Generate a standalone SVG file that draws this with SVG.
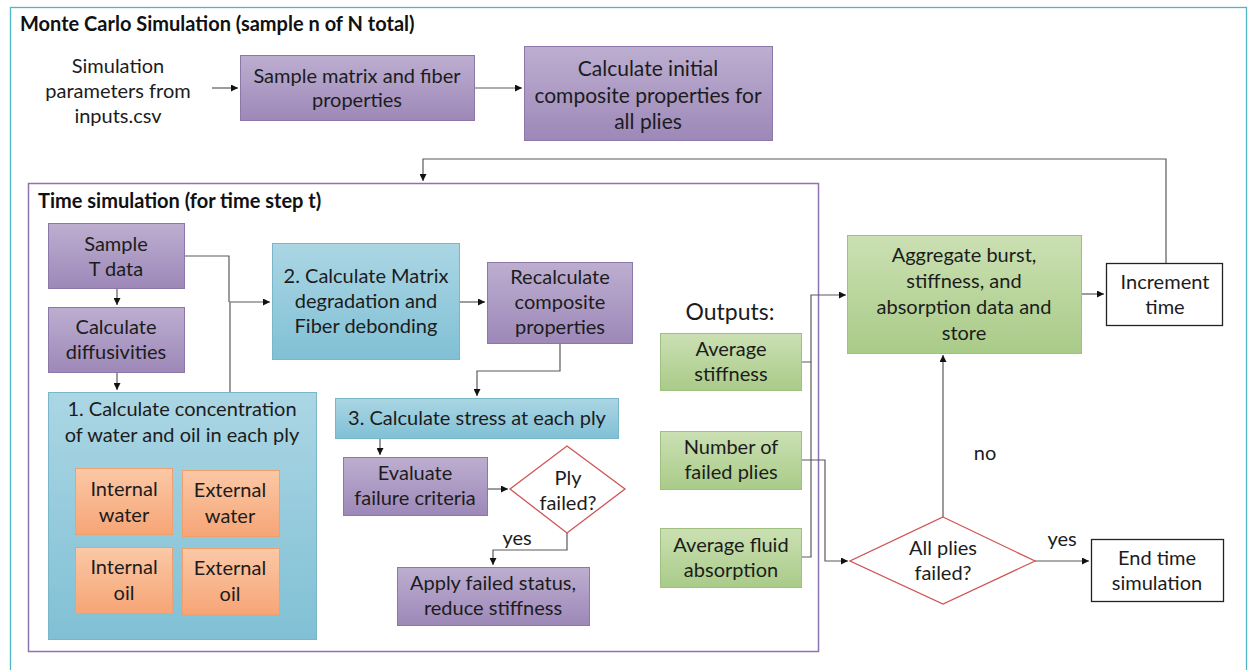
<svg xmlns="http://www.w3.org/2000/svg" width="1249" height="670" viewBox="0 0 1249 670">
<defs>
<linearGradient id="gp" x1="0" y1="0" x2="0" y2="1"><stop offset="0" stop-color="#bdaed0"/><stop offset="1" stop-color="#9d88b8"/></linearGradient>
<linearGradient id="gb" x1="0" y1="0" x2="0" y2="1"><stop offset="0" stop-color="#abd6e4"/><stop offset="1" stop-color="#80c0d5"/></linearGradient>
<linearGradient id="go" x1="0" y1="0" x2="0" y2="1"><stop offset="0" stop-color="#fbc8a6"/><stop offset="1" stop-color="#f6a576"/></linearGradient>
<linearGradient id="gg" x1="0" y1="0" x2="0" y2="1"><stop offset="0" stop-color="#cbe0b3"/><stop offset="1" stop-color="#a9cb88"/></linearGradient>
<marker id="ar" viewBox="0 0 10 10" refX="10" refY="5" markerUnits="userSpaceOnUse" markerWidth="8" markerHeight="7" orient="auto"><path d="M0,0 L10,5 L0,10 z" fill="#111"/></marker>
</defs>
<style>
.t{font-family:Lato,"Liberation Sans",sans-serif;font-size:20px;fill:#1c1c1c;text-anchor:middle}
.h{font-family:Lato,"Liberation Sans",sans-serif;font-size:20px;font-weight:bold;fill:#111}
.pu{fill:url(#gp);stroke:#8c78a8;stroke-width:1}
.bl{fill:url(#gb);stroke:#7ab6ca;stroke-width:1}
.or{fill:url(#go);stroke:#eea06e;stroke-width:1}
.gr{fill:url(#gg);stroke:#9fc07e;stroke-width:1}
.wh{fill:#fff;stroke:#222;stroke-width:1.3}
.di{fill:#fff;stroke:#d05454;stroke-width:1.3}
.c{fill:none;stroke:#5a5a5a;stroke-width:1.2}
.ca{fill:none;stroke:#5a5a5a;stroke-width:1.2;marker-end:url(#ar)}
</style>
<rect width="1249" height="670" fill="#fff"/>
<g id="frame-mc">
<rect x="10.5" y="7.5" width="1236" height="668" fill="none" stroke="#4fb6c6" stroke-width="1.3"/>
<text class="h" x="20" y="31">Monte Carlo Simulation (sample n of N total)</text>
</g>
<g id="frame-time">
<rect x="28.5" y="183.5" width="790" height="468" fill="none" stroke="#8e72b2" stroke-width="1.5"/>
<text class="h" x="38" y="208">Time simulation (for time step t)</text>
</g>
<g id="connectors">
<path class="ca" d="M212,88 H238"/>
<path class="ca" d="M474,88 H522"/>
<path class="ca" d="M1166,263 V159 H423 V181"/>
<path class="ca" d="M117,288 V305"/>
<path class="ca" d="M117,372 V390"/>
<path class="c" d="M184,256 H229 V302"/>
<path class="ca" d="M230,392 V302 H270"/>
<path class="ca" d="M459,302 H485"/>
<path class="ca" d="M560,343 V371 H477 V396"/>
<path class="ca" d="M380,438 V455"/>
<path class="ca" d="M487,489 H508"/>
<path class="ca" d="M567,533 V550 H493 V565"/>
<path class="ca" d="M802,362 H811 V295 H846"/>
<path class="c" d="M802,557 H811 V362"/>
<path class="ca" d="M802,460 H825 V561 H848"/>
<path class="ca" d="M943,517 V355"/>
<path class="ca" d="M1081,294 H1104"/>
<path class="ca" d="M1035,561 H1089"/>
<text class="t" x="985" y="460">no</text>
<text class="t" x="1062" y="546">yes</text>
<text class="t" x="517" y="545">yes</text>
</g>
<g id="inputs">
<text class="t" x="118" y="73">Simulation</text>
<text class="t" x="118" y="98">parameters from</text>
<text class="t" x="118" y="123">inputs.csv</text>
</g>
<g id="sample-matrix">
<rect class="pu" x="240.5" y="55.5" width="234" height="65"/>
<text class="t" x="357" y="83">Sample matrix and fiber</text>
<text class="t" x="357" y="107">properties</text>
</g>
<g id="initial-props">
<rect class="pu" x="524.5" y="46.5" width="248" height="94"/>
<text class="t" x="648" y="76" style="font-size:21px">Calculate initial</text>
<text class="t" x="648" y="103" style="font-size:21px">composite properties for</text>
<text class="t" x="648" y="129" style="font-size:21px">all plies</text>
</g>
<g id="sample-t">
<rect class="pu" x="48.5" y="223.5" width="136" height="65"/>
<text class="t" x="116" y="251">Sample</text>
<text class="t" x="116" y="276">T data</text>
</g>
<g id="diffusivities">
<rect class="pu" x="48.5" y="307.5" width="136" height="65"/>
<text class="t" x="116" y="334">Calculate</text>
<text class="t" x="116" y="359">diffusivities</text>
</g>
<g id="concentration">
<rect class="bl" x="48.5" y="392.5" width="268" height="247"/>
<text class="t" x="182" y="416">1. Calculate concentration</text>
<text class="t" x="182" y="442">of water and oil in each ply</text>
</g>
<g id="internal-water">
<rect class="or" x="75.5" y="468.5" width="97" height="66"/>
<text class="t" x="124" y="496">Internal</text>
<text class="t" x="124" y="522">water</text>
</g>
<g id="external-water">
<rect class="or" x="182.5" y="470.5" width="97" height="66"/>
<text class="t" x="230" y="497">External</text>
<text class="t" x="230" y="523">water</text>
</g>
<g id="internal-oil">
<rect class="or" x="75.5" y="547.5" width="97" height="66"/>
<text class="t" x="124" y="574">Internal</text>
<text class="t" x="124" y="600">oil</text>
</g>
<g id="external-oil">
<rect class="or" x="182.5" y="548.5" width="97" height="66"/>
<text class="t" x="230" y="575">External</text>
<text class="t" x="230" y="601">oil</text>
</g>
<g id="matrix-degradation">
<rect class="bl" x="272.5" y="243.5" width="187" height="116"/>
<text class="t" x="366" y="283">2. Calculate Matrix</text>
<text class="t" x="366" y="308">degradation and</text>
<text class="t" x="366" y="333">Fiber debonding</text>
</g>
<g id="recalculate">
<rect class="pu" x="487.5" y="262.5" width="145" height="81"/>
<text class="t" x="560" y="284">Recalculate</text>
<text class="t" x="560" y="309">composite</text>
<text class="t" x="560" y="334">properties</text>
</g>
<g id="stress">
<rect class="bl" x="335.5" y="398.5" width="283" height="40"/>
<text class="t" x="477" y="425">3. Calculate stress at each ply</text>
</g>
<g id="evaluate">
<rect class="pu" x="343.5" y="457.5" width="144" height="58"/>
<text class="t" x="415" y="480">Evaluate</text>
<text class="t" x="415" y="505">failure criteria</text>
</g>
<g id="ply-failed">
<polygon class="di" points="567,446 625,489 567,533 510,489"/>
<text class="t" x="568" y="485">Ply</text>
<text class="t" x="568" y="510">failed?</text>
</g>
<g id="apply-failed">
<rect class="pu" x="397.5" y="567.5" width="192" height="58"/>
<text class="t" x="493" y="590">Apply failed status,</text>
<text class="t" x="493" y="615">reduce stiffness</text>
</g>
<g id="outputs">
<text class="t" x="730" y="320" style="font-size:23px">Outputs:</text>
</g>
<g id="avg-stiffness">
<rect class="gr" x="660.5" y="333.5" width="141" height="57"/>
<text class="t" x="731" y="356">Average</text>
<text class="t" x="731" y="381">stiffness</text>
</g>
<g id="failed-plies">
<rect class="gr" x="660.5" y="431.5" width="141" height="58"/>
<text class="t" x="731" y="454">Number of</text>
<text class="t" x="731" y="479">failed plies</text>
</g>
<g id="fluid-absorption">
<rect class="gr" x="660.5" y="528.5" width="141" height="59"/>
<text class="t" x="731" y="552">Average fluid</text>
<text class="t" x="731" y="577">absorption</text>
</g>
<g id="aggregate">
<rect class="gr" x="847.5" y="235.5" width="234" height="118"/>
<text class="t" x="964" y="262">Aggregate burst,</text>
<text class="t" x="964" y="288">stiffness, and</text>
<text class="t" x="964" y="314">absorption data and</text>
<text class="t" x="964" y="340">store</text>
</g>
<g id="increment">
<rect class="wh" x="1106.5" y="263.5" width="116" height="62"/>
<text class="t" x="1165" y="289">Increment</text>
<text class="t" x="1165" y="314">time</text>
</g>
<g id="all-failed">
<polygon class="di" points="943,517 1035,561 943,604 850,561"/>
<text class="t" x="943" y="555">All plies</text>
<text class="t" x="943" y="580">failed?</text>
</g>
<g id="end-sim">
<rect class="wh" x="1091.5" y="539.5" width="132" height="62"/>
<text class="t" x="1157" y="565">End time</text>
<text class="t" x="1157" y="590">simulation</text>
</g>
</svg>
